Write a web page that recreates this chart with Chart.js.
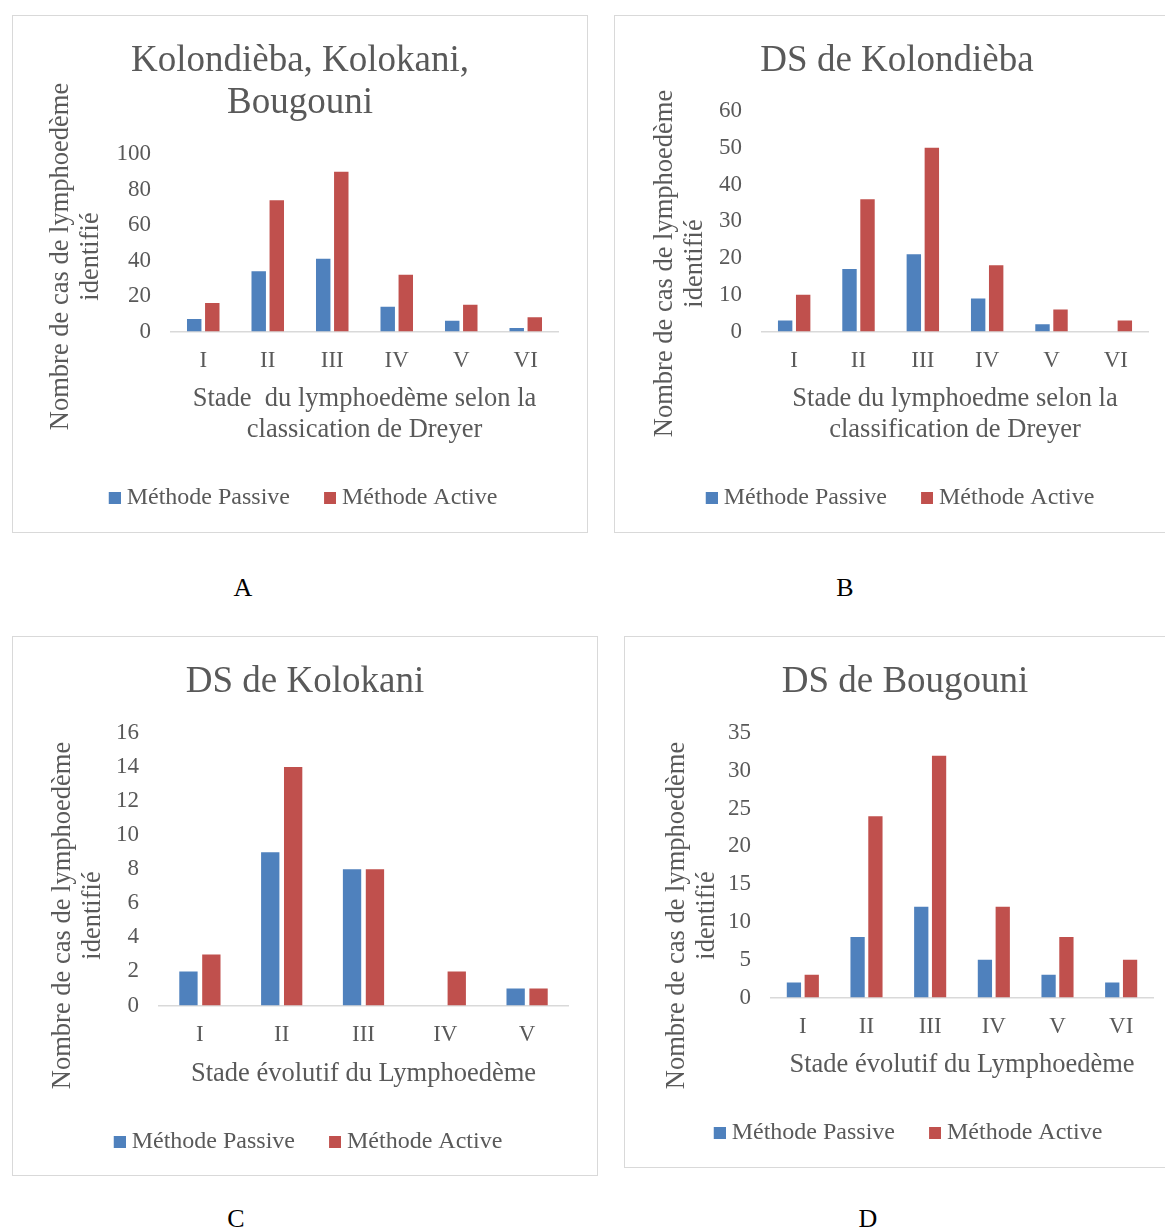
<!DOCTYPE html>
<html>
<head>
<meta charset="utf-8">
<script src="https://cdn.jsdelivr.net/npm/chart.js@4/dist/chart.umd.min.js"></script>
<style>
  html, body { margin: 0; padding: 0; background: #fff; width: 1165px; height: 1232px; overflow: hidden; }
  .panel { position: absolute; border: 1px solid #d9d9d9; box-sizing: border-box; background: #fff; }
  .panel canvas { display: block; }
  .tag { position: absolute; font: 26px "Liberation Serif", "Times New Roman", serif; color: #000;
         transform: translate(-50%, -50%); line-height: 1; }
</style>
</head>
<body>

<div class="panel" style="left:12px;top:15px;width:576px;height:518px"><canvas id="chartA" width="574" height="516"></canvas></div>
<div class="panel" style="left:614px;top:15px;width:566px;height:518px"><canvas id="chartB" width="564" height="516"></canvas></div>
<div class="panel" style="left:12px;top:636px;width:586px;height:540px"><canvas id="chartC" width="584" height="538"></canvas></div>
<div class="panel" style="left:624px;top:636px;width:562px;height:532px"><canvas id="chartD" width="560" height="530"></canvas></div>

<div class="tag" style="left:243px;top:588px">A</div>
<div class="tag" style="left:845px;top:588px">B</div>
<div class="tag" style="left:236px;top:1219px">C</div>
<div class="tag" style="left:868px;top:1219px">D</div>

<script>
// Stages of lymphoedema (Dreyer classification)
const stagesSix  = ['I', 'II', 'III', 'IV', 'V', 'VI'];
const stagesFive = ['I', 'II', 'III', 'IV', 'V'];
const seriesNames = ['Méthode Passive', 'Méthode Active'];

// All three districts combined
const totalPassive = [7, 34, 41, 14, 6, 2];
const totalActive  = [16, 74, 90, 32, 15, 8];

// District sanitaire de Kolondièba
const kolondiebaPassive = [3, 17, 21, 9, 2, 0];
const kolondiebaActive  = [10, 36, 50, 18, 6, 3];

// District sanitaire de Kolokani
const kolokaniPassive = [2, 9, 8, 0, 1];
const kolokaniActive  = [3, 14, 8, 2, 1];

// District sanitaire de Bougouni
const bougouniPassive = [2, 8, 12, 5, 3, 2];
const bougouniActive  = [3, 24, 32, 12, 8, 5];

// Value-axis ranges: [max, step]
const axisA = [100, 20];
const axisB = [60, 10];
const axisC = [16, 2];
const axisD = [35, 5];

const SERIF = '"Liberation Serif", "Times New Roman", serif';
const GREY = '#595959';
const BLUE = '#4F81BD';
const RED = '#C0504D';
const Y_TITLE = ['Nombre de cas de lymphoedème', 'identifié'];

Chart.defaults.font.family = SERIF;
Chart.defaults.color = GREY;

// Legend swatch: a 12px square sitting in the right half of a 24px-wide sprite,
// so the square ends up close to its label text
function legendSwatch(color) {
  const c = document.createElement('canvas');
  c.width = 24; c.height = 12;
  const g = c.getContext('2d');
  g.fillStyle = color;
  g.fillRect(12, 0, 12, 12);
  return c;
}
const swatchBlue = legendSwatch(BLUE);
const swatchRed = legendSwatch(RED);

// Rotated value-axis title, centred on the whole plot block rather than only the bar area
const sideTitle = {
  id: 'sideTitle',
  afterDraw(chart, args, opts) {
    if (!opts || !opts.lines) return;
    const ctx = chart.ctx;
    ctx.save();
    ctx.translate(opts.x, opts.cy);
    ctx.rotate(-Math.PI / 2);
    ctx.font = opts.size + 'px ' + SERIF;
    ctx.fillStyle = GREY;
    ctx.textAlign = 'center';
    ctx.textBaseline = 'middle';
    opts.lines.forEach((t, i) => ctx.fillText(t, 0, i * opts.lineHeight));
    ctx.restore();
  }
};

function makeChart(id, cfg) {
  return new Chart(document.getElementById(id), {
    type: 'bar',
    data: {
      labels: cfg.labels,
      datasets: [
        { label: seriesNames[0], data: cfg.passive, backgroundColor: BLUE, borderWidth: 0, pointStyle: swatchBlue },
        { label: seriesNames[1], data: cfg.active, backgroundColor: RED, borderWidth: 0, pointStyle: swatchRed }
      ]
    },
    options: {
      responsive: false,
      animation: false,
      events: [],
      layout: { padding: { left: cfg.side, right: cfg.side, top: 0, bottom: cfg.padBottom } },
      datasets: { bar: { categoryPercentage: 0.56, barPercentage: 0.8 } },
      plugins: {
        title: {
          display: true, text: cfg.title, color: GREY,
          font: { family: SERIF, size: 37, weight: 'normal', lineHeight: 1.135 },
          padding: { top: 24, bottom: cfg.titleGap }
        },
        legend: {
          position: 'bottom',
          labels: {
            color: GREY, font: { family: SERIF, size: 24 },
            usePointStyle: true, boxWidth: 12, boxHeight: 12, padding: 28
          }
        },
        tooltip: { enabled: false },
        sideTitle: { lines: Y_TITLE, x: cfg.yTitleX, cy: cfg.yTitleY, size: 26.5, lineHeight: 30 }
      },
      scales: {
        x: {
          grid: { display: false, drawTicks: false },
          border: { display: true, color: '#d9d9d9', width: 1.5 },
          ticks: { color: GREY, font: { family: SERIF, size: 23 }, padding: 16 },
          title: {
            display: true, text: cfg.xTitle, color: GREY,
            font: { family: SERIF, size: 26.5, lineHeight: 1.17 }, padding: { top: 0, bottom: 12 }
          },
          afterFit(s) { s.height = cfg.xHeight; }
        },
        y: {
          min: 0, max: cfg.axis[0],
          grid: { display: false, drawTicks: false },
          border: { display: false },
          ticks: { stepSize: cfg.axis[1], color: GREY, font: { family: SERIF, size: 23 }, padding: 20 },
          afterFit(s) { s.width = cfg.yWidth; }
        }
      }
    },
    plugins: [sideTitle]
  });
}

makeChart('chartA', {
  labels: stagesSix, passive: totalPassive, active: totalActive, axis: axisA,
  title: ['Kolondièba, Kolokani,', 'Bougouni'], titleGap: 30,
  xTitle: ['Stade  du lymphoedème selon la', 'classication de Dreyer'], xHeight: 126.5,
  side: 29, yWidth: 129, padBottom: 12, yTitleX: 48.5, yTitleY: 240.5
});

makeChart('chartB', {
  labels: stagesSix, passive: kolondiebaPassive, active: kolondiebaActive, axis: axisB,
  title: 'DS de Kolondièba', titleGap: 29,
  xTitle: ['Stade du lymphoedme selon la', 'classification de Dreyer'], xHeight: 126.5,
  side: 31, yWidth: 116, padBottom: 12, yTitleX: 50, yTitleY: 247.5
});

makeChart('chartC', {
  labels: stagesFive, passive: kolokaniPassive, active: kolokaniActive, axis: axisC,
  title: 'DS de Kolokani', titleGap: 30,
  xTitle: 'Stade évolutif du Lymphoedème', xHeight: 96.5,
  side: 29, yWidth: 117, padBottom: 11, yTitleX: 50.5, yTitleY: 278.5
});

makeChart('chartD', {
  labels: stagesSix, passive: bougouniPassive, active: bougouniActive, axis: axisD,
  title: 'DS de Bougouni', titleGap: 30,
  xTitle: 'Stade évolutif du Lymphoedème', xHeight: 95.5,
  side: 32, yWidth: 114, padBottom: 12, yTitleX: 52.5, yTitleY: 278.5
});
</script>
</body>
</html>
